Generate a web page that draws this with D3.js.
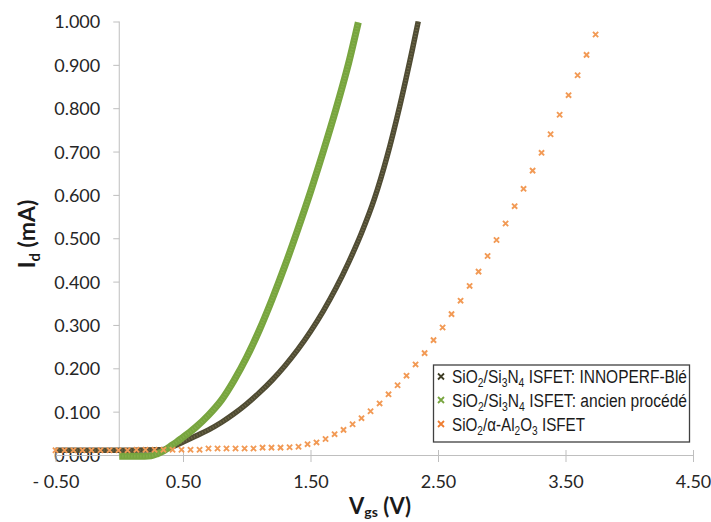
<!DOCTYPE html>
<html>
<head>
<meta charset="utf-8">
<script src="https://cdn.jsdelivr.net/npm/d3@7"></script>
<style>
  html, body { margin: 0; padding: 0; background: #ffffff; }
  svg { display: block; }
</style>
</head>
<body>
<div id="chart"></div>
<script>
// ---------- data ----------
const xTickValues = [-0.5, 0.5, 1.5, 2.5, 3.5, 4.5];
const xTickLabels = ["- 0.50", "0.50", "1.50", "2.50", "3.50", "4.50"];
const yTickValues = [0, 0.1, 0.2, 0.3, 0.4, 0.5, 0.6, 0.7, 0.8, 0.9, 1.0];
const yTickLabels = ["0.000", "0.100", "0.200", "0.300", "0.400", "0.500", "0.600", "0.700", "0.800", "0.900", "1.000"];

// SiO2/Si3N4 ISFET: INNOPERF-Blé (dark)
const darkVgs = [-0.50, -0.30, -0.10, 0.10, 0.30, 0.35, 0.40, 0.45, 0.50, 0.55, 0.60, 0.70, 0.80, 0.90, 1.00,
                 1.10, 1.20, 1.30, 1.40, 1.50, 1.60, 1.70, 1.80, 1.90, 2.00, 2.10, 2.20, 2.30, 2.345];
const darkId  = [0.011, 0.011, 0.011, 0.011, 0.012, 0.013, 0.017, 0.023, 0.030, 0.037, 0.044, 0.058, 0.075, 0.095, 0.118,
                 0.144, 0.173, 0.206, 0.243, 0.285, 0.332, 0.385, 0.445, 0.512, 0.590, 0.688, 0.805, 0.937, 1.000];

// SiO2/Si3N4 ISFET: ancien procédé (green)
const greenVgs = [0.00, 0.10, 0.20, 0.25, 0.30, 0.35, 0.40, 0.45, 0.50, 0.55, 0.60, 0.70, 0.80, 0.90, 1.00,
                  1.10, 1.20, 1.30, 1.40, 1.50, 1.60, 1.70, 1.80, 1.875];
const greenId  = [-0.003, -0.003, -0.003, -0.002, 0.003, 0.010, 0.020, 0.030, 0.041, 0.052, 0.064, 0.092, 0.126, 0.172, 0.226,
                  0.289, 0.360, 0.437, 0.520, 0.607, 0.700, 0.798, 0.905, 0.998];

// SiO2/α-Al2O3 ISFET (orange, discrete markers)
const orangeVgs = [-0.500, -0.429, -0.359, -0.288, -0.218, -0.147, -0.076, -0.006, 0.065, 0.135,
                    0.206, 0.277, 0.347, 0.418, 0.488, 0.559, 0.630, 0.700, 0.771, 0.841,
                    0.912, 0.983, 1.053, 1.124, 1.194, 1.265, 1.336, 1.406, 1.477, 1.547,
                    1.618, 1.689, 1.759, 1.830, 1.900, 1.971, 2.042, 2.112, 2.183, 2.253,
                    2.324, 2.395, 2.465, 2.536, 2.606, 2.677, 2.748, 2.818, 2.889, 2.959,
                    3.030, 3.101, 3.171, 3.242, 3.312, 3.383, 3.454, 3.524, 3.595, 3.665, 3.736];
const orangeId  = [0.011, 0.011, 0.011, 0.011, 0.011, 0.011, 0.011, 0.011, 0.011, 0.012,
                   0.012, 0.012, 0.012, 0.012, 0.012, 0.012, 0.012, 0.015, 0.015, 0.015,
                   0.015, 0.015, 0.015, 0.017, 0.017, 0.017, 0.018, 0.019, 0.025, 0.029,
                   0.037, 0.048, 0.058, 0.071, 0.085, 0.101, 0.119, 0.140, 0.161, 0.183,
                   0.209, 0.235, 0.265, 0.294, 0.325, 0.356, 0.390, 0.423, 0.459, 0.496,
                   0.534, 0.574, 0.614, 0.656, 0.697, 0.740, 0.785, 0.830, 0.876, 0.923, 0.970];

const seriesNames = [
  [["SiO", ""], ["2", "sub"], ["/Si", ""], ["3", "sub"], ["N", ""], ["4", "sub"], [" ISFET: INNOPERF-Blé", ""]],
  [["SiO", ""], ["2", "sub"], ["/Si", ""], ["3", "sub"], ["N", ""], ["4", "sub"], [" ISFET: ancien procédé", ""]],
  [["SiO", ""], ["2", "sub"], ["/α-Al", ""], ["2", "sub"], ["O", ""], ["3", "sub"], [" ISFET", ""]]
];
const legendColors = ["#3f3d26", "#78a53f", "#ee7d31"];

// ---------- drawing ----------
const W = 711, H = 522;
const svg = d3.select("#chart").append("svg")
  .attr("width", W).attr("height", H)
  .style("background", "#fff");

const x = d3.scaleLinear().domain([-0.5, 4.5]).range([55.5, 693]);
const y = d3.scaleLinear().domain([0, 1]).range([455, 21.5]);

const axisColor = "#bfbfbf";
const tickFont = "Lato, 'Open Sans', sans-serif";

// Y axis
const yAxis = svg.append("g").attr("transform", `translate(${x(0)},0)`)
  .call(d3.axisLeft(y).tickValues(yTickValues).tickSize(6).tickPadding(13)
        .tickFormat((d, i) => yTickLabels[i]));
yAxis.select(".domain").attr("stroke", axisColor).attr("d", `M0,${y(0)}V${y(1)}`);
yAxis.selectAll(".tick line").attr("stroke", axisColor);
yAxis.selectAll(".tick text").attr("fill", "#262626").style("font-family", tickFont)
  .style("font-size", "18px").attr("dy", "0.36em");

// X axis (crossing ticks)
const xAxis = svg.append("g").attr("transform", `translate(0,${y(0)})`)
  .call(d3.axisBottom(x).tickValues(xTickValues).tickSizeInner(7).tickSizeOuter(0).tickPadding(26)
        .tickFormat((d, i) => xTickLabels[i]));
xAxis.select(".domain").attr("stroke", axisColor);
xAxis.selectAll(".tick line").attr("stroke", axisColor).attr("y1", -5);
xAxis.selectAll(".tick text").attr("fill", "#262626").style("font-family", tickFont)
  .style("font-size", "18px").attr("dy", "0");

// Axis titles
const xt = svg.append("text").attr("x", 380).attr("y", 514).attr("text-anchor", "middle")
  .style("font-family", tickFont).style("font-weight", "bold").style("font-size", "22px").attr("fill", "#1a1a1a");
xt.append("tspan").text("V");
xt.append("tspan").text("gs").attr("dy", 3).style("font-size", "14px");
xt.append("tspan").text(" (V)").attr("dy", -3);

const yt = svg.append("text").attr("transform", "translate(35,234) rotate(-90)").attr("text-anchor", "middle")
  .style("font-family", tickFont).style("font-weight", "bold").style("font-size", "23px").attr("fill", "#1a1a1a");
yt.append("tspan").text("I");
yt.append("tspan").text("d").attr("dy", 5).style("font-size", "15px");
yt.append("tspan").text(" (mA)").attr("dy", -5);

// Series
const line = d3.line().x(d => x(d[0])).y(d => y(d[1])).curve(d3.curveMonotoneX);
const darkData = darkVgs.map((v, i) => [v, darkId[i]]);
const greenData = greenVgs.map((v, i) => [v, greenId[i]]);
const orangeData = orangeVgs.map((v, i) => [v, orangeId[i]]);

svg.append("path").datum(darkData).attr("d", line)
  .attr("fill", "none").attr("stroke", "#4f4b33").attr("stroke-width", 5.5);
svg.append("path").datum(darkData).attr("d", line)
  .attr("fill", "none").attr("stroke", "#77724f").attr("stroke-width", 2.5).attr("stroke-dasharray", "1.2,1.8")
  .attr("opacity", 0.7);

svg.append("path").datum(greenData).attr("d", line)
  .attr("fill", "none").attr("stroke", "#78a53f").attr("stroke-width", 7);
svg.append("path").datum(greenData).attr("d", line)
  .attr("fill", "none").attr("stroke", "#8cb554").attr("stroke-width", 3).attr("stroke-dasharray", "1.2,1.8")
  .attr("opacity", 0.6);

const xMark = s => `M${-s},${-s}L${s},${s}M${-s},${s}L${s},${-s}`;
svg.append("g").selectAll("path").data(orangeData).join("path")
  .attr("transform", d => `translate(${x(d[0])},${y(d[1])})`)
  .attr("d", xMark(2.6))
  .attr("stroke", "#f29a55").attr("stroke-width", 1.9).attr("fill", "none");

// Legend
const lg = svg.append("g");
lg.append("rect").attr("x", 433.5).attr("y", 365).attr("width", 256).attr("height", 77)
  .attr("fill", "#fff").attr("stroke", "#404040").attr("stroke-width", 1.3);
const rowBase = [383, 406.5, 430.5];
const rowWidth = [235, 235, 133];
seriesNames.forEach((segs, i) => {
  lg.append("path").attr("transform", `translate(441,${rowBase[i] - 6.5})`)
    .attr("d", xMark(3)).attr("stroke", legendColors[i]).attr("stroke-width", 1.8).attr("fill", "none");
  const t = lg.append("text").attr("x", 452).attr("y", rowBase[i])
    .style("font-family", "'Liberation Sans Narrow', 'Arial Narrow', 'Liberation Sans', Arial, sans-serif")
    .style("font-size", "18px").attr("fill", "#1a1a1a");
  let shifted = false;
  segs.forEach(([txt, kind]) => {
    const ts = t.append("tspan").text(txt);
    if (kind === "sub") {
      ts.style("font-size", "12px").attr("dy", shifted ? 0 : 4);
      shifted = true;
    } else {
      if (shifted) ts.attr("dy", -4);
      shifted = false;
    }
  });
  t.attr("textLength", rowWidth[i]).attr("lengthAdjust", "spacingAndGlyphs");
});
</script>
</body>
</html>
